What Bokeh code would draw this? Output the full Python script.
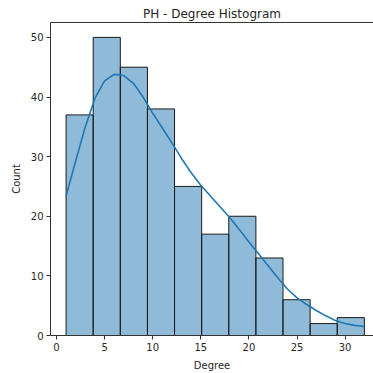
from bokeh.plotting import figure
from bokeh.models import LinearAxis, Range1d, FixedTicker
from bokeh.embed import file_html
from bokeh.resources import INLINE

# Histogram of node degree: bin edges and counts
bin_edges = [1.0, 3.818, 6.636, 9.455, 12.273, 15.091, 17.909, 20.727, 23.545, 26.364, 29.182, 32.0]
counts = [37, 50, 45, 38, 25, 17, 20, 13, 6, 2, 3]

# Kernel density estimate, scaled to counts
kde_x = [1, 2, 3, 4, 5, 6, 7, 8, 9, 10, 11, 12, 13, 14, 15, 16, 17, 18, 19, 20,
         21, 22, 23, 24, 25, 26, 27, 28, 29, 30, 31, 32]
kde_y = [23.4, 29.3, 35.0, 39.8, 42.7, 43.8, 43.6, 42.3, 40.0, 37.3, 34.8, 32.3,
         29.7, 27.3, 25.2, 23.4, 21.6, 19.8, 17.8, 15.7, 13.7, 11.7, 9.7, 7.8,
         6.3, 5.2, 4.2, 3.3, 2.5, 2.0, 1.7, 1.5]

x_ticks = [0, 5, 10, 15, 20, 25, 30]
y_ticks = [0, 10, 20, 30, 40, 50]

FONT = "DejaVu Sans"
TEXT = "#262626"
SPINE = "#333333"

p = figure(width=373, height=373, output_backend="svg", toolbar_location=None,
           x_range=Range1d(-0.62, 32.95), y_range=Range1d(0, 52.5),
           min_border_left=50, min_border_right=0, min_border_top=22,
           min_border_bottom=37, x_axis_location=None, y_axis_location=None)

p.title.text = "PH - Degree Histogram"
p.title.text_font = FONT
p.title.text_font_size = "12px"
p.title.text_font_style = "normal"
p.title.text_color = TEXT
p.title.align = "center"
p.title.standoff = 4
p.title.offset = 0

p.xgrid.visible = False
p.ygrid.visible = False
p.outline_line_color = None
p.background_fill_color = "white"
p.border_fill_color = "white"

p.quad(left=bin_edges[:-1], right=bin_edges[1:], bottom=0, top=counts,
       fill_color="#1f77b4", fill_alpha=0.5, line_color="#1a1a1a", line_width=1)
p.line(kde_x, kde_y, line_color="#1f77b4", line_width=1.6)


def style(ax, ticks, label=None):
    ax.ticker = FixedTicker(ticks=ticks)
    ax.axis_line_color = SPINE
    ax.axis_line_width = 1
    ax.major_tick_line_color = SPINE
    ax.major_tick_out = 4
    ax.major_tick_in = 0
    ax.minor_tick_line_color = None
    ax.major_label_text_font = FONT
    ax.major_label_text_font_size = "10px"
    ax.major_label_text_color = TEXT
    ax.major_label_standoff = 3
    if label:
        ax.axis_label = label
        ax.axis_label_text_font = FONT
        ax.axis_label_text_font_size = "10px"
        ax.axis_label_text_font_style = "normal"
        ax.axis_label_text_color = TEXT
        ax.axis_label_standoff = 6


xax = LinearAxis()
style(xax, x_ticks, "Degree")
p.add_layout(xax, "below")

yax = LinearAxis()
style(yax, y_ticks, "Count")
p.add_layout(yax, "left")

# top spine only
top = LinearAxis()
top.ticker = FixedTicker(ticks=[])
top.axis_line_color = SPINE
top.major_tick_line_color = None
top.minor_tick_line_color = None
top.major_label_text_font_size = "0px"
top.major_label_standoff = 0
p.add_layout(top, "above")

open("out.html", "w").write(file_html(p, INLINE))
